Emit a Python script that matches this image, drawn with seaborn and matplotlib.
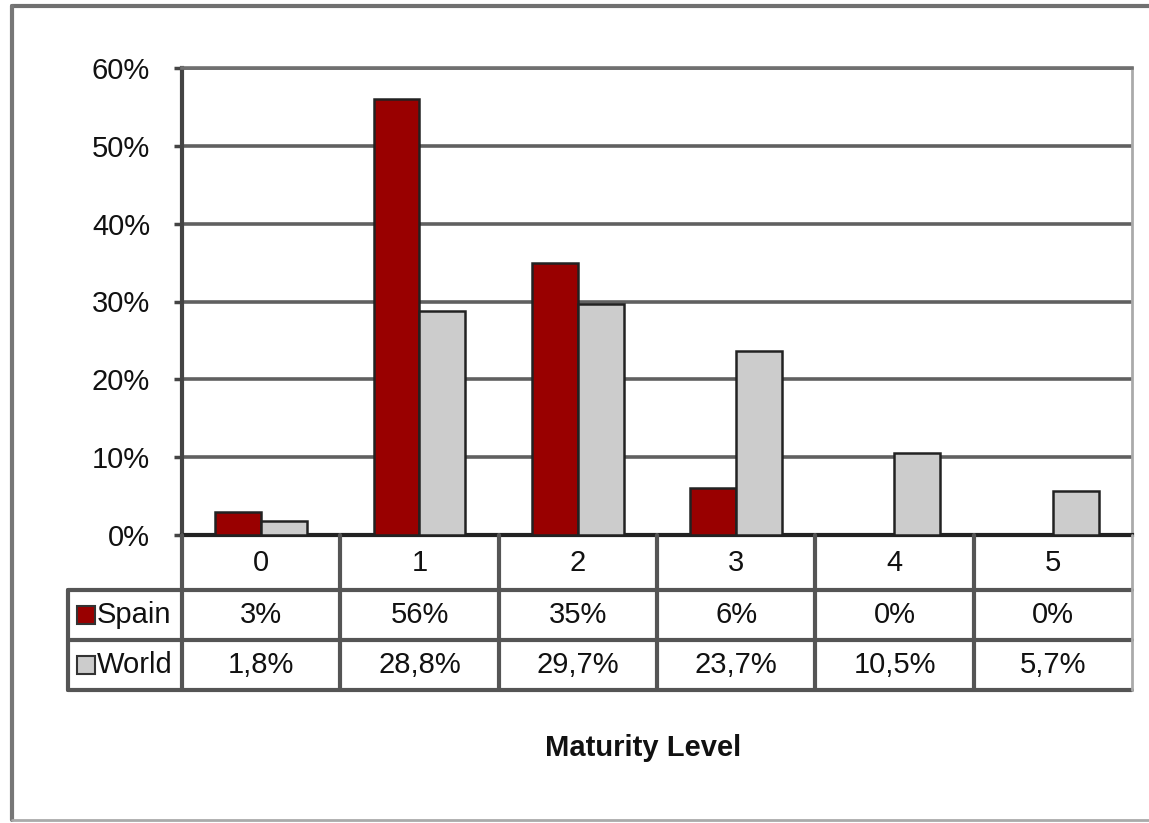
import pandas as pd
import matplotlib
matplotlib.use("Agg")
import matplotlib.pyplot as plt
import seaborn as sns
from matplotlib.lines import Line2D
from matplotlib.patches import Rectangle

# Data
levels = ["0", "1", "2", "3", "4", "5"]
spain = [3, 56, 35, 6, 0, 0]
world = [1.8, 28.8, 29.7, 23.7, 10.5, 5.7]
spain_labels = ["3%", "56%", "35%", "6%", "0%", "0%"]
world_labels = ["1,8%", "28,8%", "29,7%", "23,7%", "10,5%", "5,7%"]
series_names = ["Spain", "World"]
series_colors = {"Spain": "#990000", "World": "#CCCCCC"}
y_ticks = [0, 10, 20, 30, 40, 50, 60]

df = pd.DataFrame({
    "level": levels * 2,
    "share": spain + world,
    "series": ["Spain"] * len(levels) + ["World"] * len(levels),
})

sns.set_style("white")
plt.rcParams["font.family"] = ["Liberation Sans", "DejaVu Sans"]

W, H = 1149, 823
fig = plt.figure(figsize=(W / 100, H / 100), dpi=100)

# pixel box helpers
def box(x0, y0, x1, y1):
    return [x0 / W, 1 - y1 / H, (x1 - x0) / W, (y1 - y0) / H]

ax = fig.add_axes(box(182, 68, 1132, 535))
sns.barplot(data=df, x="level", y="share", hue="series", order=levels,
            hue_order=series_names, palette=series_colors, width=0.58,
            saturation=1, edgecolor="#222222", linewidth=1.8, legend=False,
            ax=ax, zorder=3)
ax.set_ylim(0, 60)
ax.set_xlim(-0.5, 5.5)
ax.set_yticks(y_ticks)
ax.set_yticklabels([f"{t}%" for t in y_ticks], fontsize=21, color="#111111")
ax.tick_params(axis="y", length=6, width=2.5, color="#444444", pad=17, left=True)
ax.set_xticks([])
ax.set_xlabel("")
ax.set_ylabel("")
ax.yaxis.grid(True, color="#606060", linewidth=2.6, zorder=0)
ax.set_axisbelow(True)
ax.spines["left"].set_color("#444444")
ax.spines["left"].set_linewidth(3)
ax.spines["bottom"].set_color("#222222")
ax.spines["bottom"].set_linewidth(3)
ax.spines["top"].set_color("#707070")
ax.spines["top"].set_linewidth(2.6)
ax.spines["right"].set_color("#AAAAAA")
ax.spines["right"].set_linewidth(2)

# Data table under the plot
label_w = (182 - 68) / ((1132 - 182) / 6)
tax = fig.add_axes(box(68, 535, 1132, 690))
tax.set_xlim(-0.5 - label_w, 5.5)
tax.set_ylim(155, 0)
tax.axis("off")
line_kw = dict(color="#555555", linewidth=3, clip_on=False)
for y in (55, 105, 155):
    tax.plot([-0.5 - label_w, 5.5], [y, y], **line_kw)
for k in range(6):
    tax.plot([k - 0.5, k - 0.5], [0, 155], **line_kw)
tax.plot([5.5, 5.5], [0, 155], color="#AAAAAA", linewidth=2, clip_on=False)
tax.plot([-0.5 - label_w, -0.5 - label_w], [55, 155], **line_kw)

for i, lv in enumerate(levels):
    tax.text(i, 28, lv, ha="center", va="center", fontsize=21, color="#111111")
    tax.text(i, 80, spain_labels[i], ha="center", va="center", fontsize=21, color="#111111")
    tax.text(i, 130, world_labels[i], ha="center", va="center", fontsize=21, color="#111111")

for name, yc in zip(series_names, (80, 130)):
    x0 = 77 / W
    fig.patches.append(Rectangle((x0, 1 - (yc + 535 + 9) / H), 18 / W, 18 / H,
                                 transform=fig.transFigure, facecolor=series_colors[name],
                                 edgecolor="#333333", linewidth=1.5))
    fig.text(97 / W, 1 - (yc + 535) / H, name, ha="left", va="center",
             fontsize=21, color="#111111")

fig.text(643 / W, 1 - 748 / H, "Maturity Level", ha="center", va="center",
         fontsize=21, fontweight="bold", color="#111111")

# chart area frame
fig.add_artist(Line2D([12 / W, 1.0], [1 - 6 / H, 1 - 6 / H], transform=fig.transFigure,
                      color="#707070", linewidth=3))
fig.add_artist(Line2D([12 / W, 12 / W], [1 - 6 / H, 3 / H], transform=fig.transFigure,
                      color="#777777", linewidth=3))
fig.add_artist(Line2D([12 / W, 1.0], [3 / H, 3 / H], transform=fig.transFigure,
                      color="#AAAAAA", linewidth=2))

fig.savefig("out.png", dpi=100)
